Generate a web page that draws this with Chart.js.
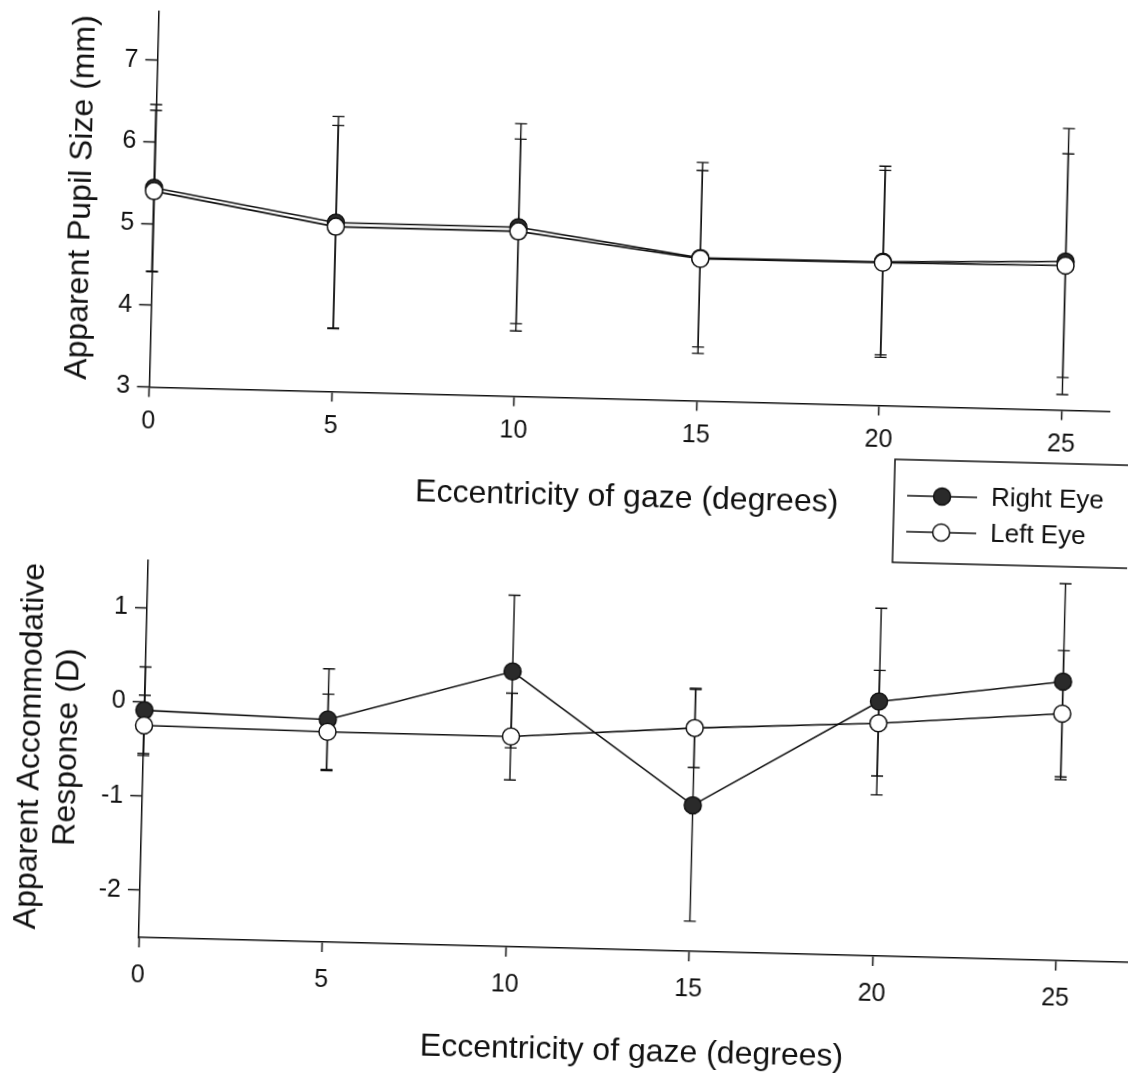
<!DOCTYPE html>
<html>
<head>
<meta charset="utf-8">
<script src="https://cdn.jsdelivr.net/npm/chart.js@4.4.1/dist/chart.umd.min.js"></script>
<style>
  html, body { margin: 0; padding: 0; background: #fff; overflow: hidden; width: 1128px; height: 1073px; }
  /* the scanned figure sits slightly skewed on the page */
  #page { position: absolute; left: 0; top: 0; width: 1128px; height: 1073px;
          transform: rotate(1.45deg); transform-origin: 564px 536px; }
  #pupil { position: absolute; left: 0; top: 0; }
  #accom { position: absolute; left: 0; top: 540px; }
</style>
</head>
<body>
<div id="page">
  <canvas id="pupil" width="1128" height="600"></canvas>
  <canvas id="accom" width="1160" height="540"></canvas>
</div>
<script>
const eccentricity = [0, 5, 10, 15, 20, 25];

// apparent pupil size (mm), mean and SD
const pupilRight = [5.44, 5.07, 5.07, 4.75, 4.76, 4.82];
const pupilRightErr = [1.02, 1.30, 1.27, 1.17, 1.17, 1.63];
const pupilLeft = [5.40, 5.02, 5.02, 4.74, 4.75, 4.77];
const pupilLeftErr = [0.99, 1.24, 1.13, 1.08, 1.13, 1.37];

// apparent accommodative response (D), mean and SD
const accRight = [-0.09, -0.14, 0.42, -0.95, 0.20, 0.46];
const accRightErr = [0.46, 0.54, 0.81, 1.23, 0.99, 1.04];
const accLeft = [-0.25, -0.27, -0.27, -0.13, -0.03, 0.12];
const accLeftErr = [0.32, 0.40, 0.46, 0.42, 0.56, 0.67];

const xTicks = [0, 5, 10, 15, 20, 25];
const pupilTicks = [3, 4, 5, 6, 7];
const accTicks = [-2, -1, 0, 1];

const seriesNames = ['Right Eye', 'Left Eye'];
const FONT = '"Liberation Sans", Arial, Helvetica, sans-serif';
const INK = '#111';

const errorBars = {
  id: 'errorBars',
  beforeDatasetsDraw(chart) {
    const {ctx, scales: {x, y}} = chart;
    ctx.save();
    ctx.strokeStyle = INK;
    ctx.lineWidth = 1.4;
    chart.data.datasets.forEach(ds => {
      ds.data.forEach((p, i) => {
        const e = ds.errors[i];
        const px = x.getPixelForValue(p.x);
        const top = y.getPixelForValue(p.y + e);
        const bot = y.getPixelForValue(p.y - e);
        ctx.beginPath();
        ctx.moveTo(px, top); ctx.lineTo(px, bot);
        ctx.moveTo(px - 6, top); ctx.lineTo(px + 6, top);
        ctx.moveTo(px - 6, bot); ctx.lineTo(px + 6, bot);
        ctx.stroke();
      });
    });
    ctx.restore();
  }
};

const legendBox = {
  id: 'legendBox',
  afterDraw(chart) {
    const ctx = chart.ctx;
    ctx.save();
    ctx.strokeStyle = INK;
    ctx.lineWidth = 1.5;
    ctx.strokeRect(893, 451, 300, 103);
    chart.data.datasets.forEach((ds, i) => {
      const yy = 487 + i * 36;
      ctx.beginPath();
      ctx.moveTo(906, yy); ctx.lineTo(976, yy);
      ctx.lineWidth = 1.5;
      ctx.stroke();
      ctx.beginPath();
      ctx.arc(941, yy, 8.5, 0, Math.PI * 2);
      ctx.fillStyle = ds.pointBackgroundColor;
      ctx.fill();
      ctx.stroke();
      ctx.fillStyle = INK;
      ctx.font = '26px ' + FONT;
      ctx.textBaseline = 'middle';
      ctx.fillText(ds.label, 990, yy + 1);
    });
    ctx.restore();
  }
};

function makeSeries(values, errors, idx) {
  return {
    label: seriesNames[idx],
    data: eccentricity.map((x, i) => ({x: x, y: values[i]})),
    errors: errors,
    order: idx === 0 ? 1 : 0,
    borderColor: INK,
    borderWidth: 1.6,
    tension: 0,
    pointRadius: 8.5,
    pointBorderWidth: 1.5,
    pointBorderColor: INK,
    pointBackgroundColor: idx === 0 ? '#2a2a2a' : '#ffffff',
    clip: false
  };
}

function axisX(max, height, labelPad, titlePadBottom) {
  return {
    type: 'linear', min: 0, max: max,
    afterBuildTicks: s => { s.ticks = xTicks.map(v => ({value: v})); },
    afterFit: s => { s.height = height; },
    border: {display: true, color: INK, width: 1.5},
    grid: {drawOnChartArea: false, tickLength: 10, tickColor: INK, tickWidth: 1.5},
    ticks: {color: INK, padding: labelPad, maxRotation: 0, font: {family: FONT, size: 25}},
    title: {display: true, text: 'Eccentricity of gaze (degrees)', color: INK,
            font: {family: FONT, size: 32}, padding: {top: 0, bottom: titlePadBottom}}
  };
}

function axisY(min, max, ticks, width, title, titlePadTop) {
  return {
    type: 'linear', min: min, max: max,
    afterBuildTicks: s => { s.ticks = ticks.map(v => ({value: v})); },
    afterFit: s => { s.width = width; },
    border: {display: true, color: INK, width: 1.5},
    grid: {drawOnChartArea: false, tickLength: 12, tickColor: INK, tickWidth: 1.5},
    ticks: {color: INK, padding: 7, font: {family: FONT, size: 25}},
    title: {display: true, text: title, color: INK,
            font: {family: FONT, size: 32, lineHeight: 1.15}, padding: {top: titlePadTop, bottom: 0}}
  };
}

new Chart(document.getElementById('pupil'), {
  type: 'line',
  data: {
    datasets: [
      makeSeries(pupilRight, pupilRightErr, 0),
      makeSeries(pupilLeft, pupilLeftErr, 1)
    ]
  },
  options: {
    responsive: false,
    animation: false,
    devicePixelRatio: 1,
    layout: {padding: {top: 11, right: 22, left: 0, bottom: 0}},
    plugins: {legend: {display: false}, tooltip: {enabled: false}},
    scales: {
      x: axisX(26.3, 202.5, 10, 85),
      y: axisY(3, 7.6, pupilTicks, 145.4, 'Apparent Pupil Size (mm)', 55)
    }
  },
  plugins: [errorBars, legendBox]
});

new Chart(document.getElementById('accom'), {
  type: 'line',
  data: {
    datasets: [
      makeSeries(accRight, accRightErr, 0),
      makeSeries(accLeft, accLeftErr, 1)
    ]
  },
  options: {
    responsive: false,
    animation: false,
    devicePixelRatio: 1,
    layout: {padding: {top: 31, right: 20, left: 0, bottom: 0}},
    plugins: {legend: {display: false}, tooltip: {enabled: false}},
    scales: {
      x: axisX(27, 132, 13, 11),
      y: axisY(-2.5, 1.5, accTicks, 149, ['Apparent Accommodative', 'Response (D)'], 18)
    }
  },
  plugins: [errorBars]
});
</script>
</body>
</html>
